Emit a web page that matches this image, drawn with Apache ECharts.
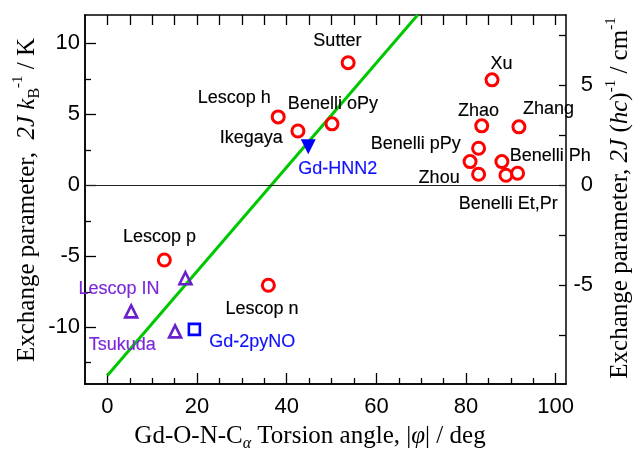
<!DOCTYPE html>
<html>
<head>
<meta charset="utf-8">
<script src="https://cdn.jsdelivr.net/npm/echarts@6/dist/echarts.min.js"></script>
<style>html,body{margin:0;padding:0;background:#fff;}#c{width:634px;height:452px;}</style>
</head>
<body>
<div id="c"></div>
<script>
// ---- data ----
const circleNames = ['Sutter','Lescop h','Ikegaya','Benelli oPy','Xu','Zhao','Zhang','Benelli pPy','','Zhou','Benelli Ph','','Benelli Et,Pr','Lescop p','Lescop n'];
const circleX = [53.7, 38.1, 42.5, 50.1, 85.8, 83.5, 91.8, 82.8, 80.9, 82.8, 88.0, 88.9, 91.5, 12.7, 35.9];
const circleY = [8.64, 4.82, 3.83, 4.33, 7.43, 4.19, 4.12, 2.61, 1.67, 0.78, 1.67, 0.71, 0.85, -5.26, -7.04];
const triUpX = [17.4, 5.3, 15.1];
const triUpY = [-6.55, -8.88, -10.29];
const squareX = [19.4];
const squareY = [-10.15];
const triDownX = [44.8];
const triDownY = [2.71];
const fitX = [0, 69.2];
const fitY = [-13.4, 12];
const blackLabelText = ['Sutter','Lescop h','Benelli oPy','Ikegaya','Xu','Zhao','Zhang','Benelli pPy','Zhou','Benelli Ph','Benelli Et,Pr','Lescop p','Lescop n'];
const blackLabelX = [51.3, 28.3, 50.3, 32.1, 87.9, 82.8, 98.4, 68.8, 74.0, 98.8, 89.4, 11.6, 34.5];
const blackLabelY = [10.14, 6.14, 5.72, 3.36, 8.54, 5.25, 5.37, 2.9, 0.54, 2.07, -1.34, -3.65, -8.69];
const blueLabelText = ['Gd-HNN2', 'Gd-2pyNO'];
const blueLabelX = [51.4, 32.3];
const blueLabelY = [1.15, -11.05];
const purpleLabelText = ['Lescop IN', 'Tsukuda'];
const purpleLabelX = [2.6, 3.3];
const purpleLabelY = [-7.3, -11.23];
const xLabelTicks = [0, 20, 40, 60, 80, 100];
const xMinorTicks = [5, 10, 15, 25, 30, 35, 45, 50, 55, 65, 70, 75, 85, 90, 95];
const xTopTicks = [0, 5, 10, 15, 20, 25, 30, 35, 40, 45, 50, 55, 60, 65, 70, 75, 80, 85, 90, 95, 100];
const yLabelTicks = [-10, -5, 0, 5, 10];
const yMinorTicks = [-12.5, -7.5, -2.5, 2.5, 7.5];
const yRightTicks = [-7.5, -5, -2.5, 0, 2.5, 5, 7.5];
const yRightLabels = [-5, 0, 5];

// ---- helpers ----
const zip = (xs, ys) => xs.map((x, i) => [x, ys[i]]);
const labelData = (t, xs, ys) => t.map((n, i) => ({ name: n, value: [xs[i], ys[i]] }));
const SANS = "'Liberation Sans', Arial, sans-serif";
const SERIF = "'Liberation Serif', 'Times New Roman', serif";
const axisLine = { show: true, onZero: false, lineStyle: { color: '#000', width: 1.5 } };
const tickStyle = { color: '#000', width: 1.3 };

const serifRich = {
  t: { fontFamily: SERIF, fontSize: 25, lineHeight: 32, color: '#000' },
  i: { fontFamily: SERIF, fontSize: 25, lineHeight: 32, fontStyle: 'italic', color: '#000' },
  sub: { fontFamily: SERIF, fontSize: 16, lineHeight: 16, verticalAlign: 'bottom', color: '#000' },
  isub: { fontFamily: SERIF, fontSize: 16, lineHeight: 16, verticalAlign: 'bottom', fontStyle: 'italic', color: '#000' },
  sup: { fontFamily: SERIF, fontSize: 15, lineHeight: 15, verticalAlign: 'top', color: '#000' }
};

function labelSeries(data, color) {
  return {
    type: 'scatter', data: data, symbolSize: 0.1,
    itemStyle: { color: 'transparent' }, silent: true, z: 5,
    label: { show: true, position: 'inside', formatter: '{b}', color: color, fontFamily: SANS, fontSize: 18,
      textBorderWidth: 0.15, textBorderColor: color, opacity: 1 }
  };
}

const chart = echarts.init(document.getElementById('c'), null, { renderer: 'canvas' });
chart.setOption({
  animation: false,
  backgroundColor: '#fff',
  grid: { left: 85, right: 68, top: 15, bottom: 68 },
  xAxis: [
    { type: 'value', position: 'bottom', min: -5, max: 102.3, axisLine: axisLine, splitLine: { show: false },
      axisTick: { show: true, inside: true, length: 11, lineStyle: tickStyle, customValues: xLabelTicks },
      axisLabel: { show: true, customValues: xLabelTicks, color: '#000', fontFamily: SANS, fontSize: 22, margin: 12 } },
    { type: 'value', position: 'bottom', min: -5, max: 102.3, axisLine: axisLine, splitLine: { show: false },
      axisTick: { show: true, inside: true, length: 6, lineStyle: tickStyle, customValues: xMinorTicks },
      axisLabel: { show: false } },
    { type: 'value', position: 'top', min: -5, max: 102.3, axisLine: axisLine, splitLine: { show: false },
      axisTick: { show: true, inside: true, length: 10, lineStyle: tickStyle, customValues: xTopTicks },
      axisLabel: { show: false } }
  ],
  yAxis: [
    { type: 'value', position: 'left', min: -14, max: 12, axisLine: axisLine, splitLine: { show: false },
      axisTick: { show: true, inside: true, length: 11, lineStyle: tickStyle, customValues: yLabelTicks },
      axisLabel: { show: true, customValues: yLabelTicks, color: '#000', fontFamily: SANS, fontSize: 22, margin: 5 } },
    { type: 'value', position: 'right', min: -9.933, max: 8.514, axisLine: axisLine, splitLine: { show: false },
      axisTick: { show: true, inside: true, length: 7, lineStyle: tickStyle, customValues: yRightTicks },
      axisLabel: { show: true, customValues: yRightLabels, color: '#000', fontFamily: SANS, fontSize: 22, margin: 27, align: 'right' } },
    { type: 'value', position: 'left', min: -14, max: 12, axisLine: axisLine, splitLine: { show: false },
      axisTick: { show: true, inside: true, length: 6, lineStyle: tickStyle, customValues: yMinorTicks },
      axisLabel: { show: false } }
  ],
  series: [
    { type: 'line', data: zip(fitX, fitY), showSymbol: false, symbol: 'none', silent: true, z: 2,
      lineStyle: { color: '#00c800', width: 3 },
      markLine: { silent: true, symbol: 'none', label: { show: false },
        lineStyle: { color: '#222', width: 1, type: 'solid' }, data: [{ yAxis: 0 }] } },
    { type: 'scatter', data: zip(circleX, circleY), symbol: 'circle', symbolSize: 12, z: 3,
      itemStyle: { color: 'transparent', borderColor: '#ff0000', borderWidth: 3, opacity: 1 } },
    { type: 'scatter', data: zip(triUpX, triUpY), symbol: 'triangle', symbolSize: 12, z: 3,
      itemStyle: { color: 'transparent', borderColor: '#6a1fcc', borderWidth: 2.6, opacity: 1 } },
    { type: 'scatter', data: zip(squareX, squareY), symbol: 'rect', symbolSize: 11, z: 3,
      itemStyle: { color: 'transparent', borderColor: '#0000ff', borderWidth: 2.6, opacity: 1 } },
    { type: 'scatter', data: zip(triDownX, triDownY), symbol: 'triangle', symbolRotate: 180, symbolSize: 15, z: 3,
      itemStyle: { color: '#0000ff', opacity: 1 } },
    labelSeries(labelData(blackLabelText, blackLabelX, blackLabelY), '#000'),
    labelSeries(labelData(blueLabelText, blueLabelX, blueLabelY), '#1010ff'),
    labelSeries(labelData(purpleLabelText, purpleLabelX, purpleLabelY), '#7a28d8')
  ],
  graphic: [
    { type: 'text', x: 310, y: 436, silent: true,
      style: { text: '{t|Gd-O-N-C}{isub|α}{t| Torsion angle, |}{i|φ}{t|| / deg}', rich: serifRich,
        textAlign: 'center', textVerticalAlign: 'middle' } },
    { type: 'text', x: 27, y: 200, rotation: Math.PI / 2, silent: true,
      style: { text: '{t|Exchange parameter,  }{i|2J k}{sub|B}{sup|-1}{t| / K}', rich: serifRich,
        textAlign: 'center', textVerticalAlign: 'middle' } },
    { type: 'text', x: 620, y: 198, rotation: Math.PI / 2, silent: true,
      style: { text: '{t|Exchange parameter, }{i|2J }{t|(}{i|hc}{t|)}{sup|-1}{t| / cm}{sup|-1}', rich: serifRich,
        textAlign: 'center', textVerticalAlign: 'middle' } }
  ]
});
</script>
</body>
</html>
